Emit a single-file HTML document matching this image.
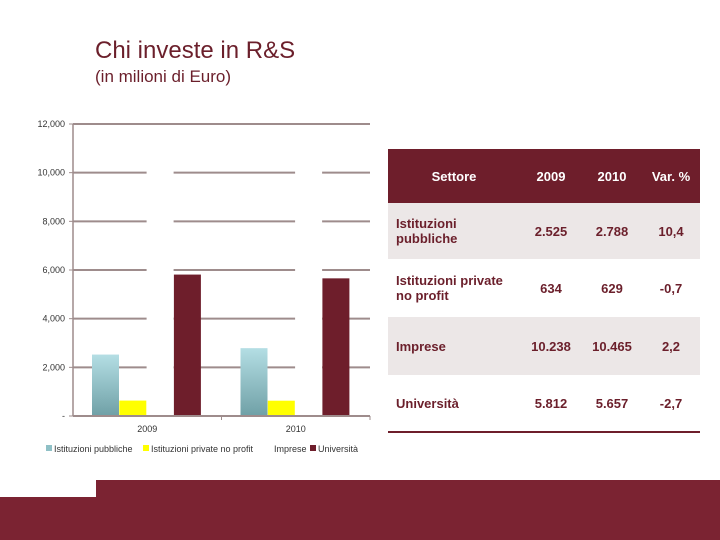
<!DOCTYPE html>
<html><head><meta charset="utf-8"><style>
body{margin:0;width:720px;height:540px;background:#fff;position:relative;overflow:hidden;font-family:"Liberation Sans",sans-serif}
.t{position:absolute;color:#6b1f2b}
table{position:absolute;left:388px;top:149px;width:312px;border-collapse:collapse;font-size:13px;font-weight:bold;color:#6b1f2b;table-layout:fixed}
td{padding:0;text-align:center}
td.l{text-align:left;padding-left:8px}
tr.h td{background:#6e1e2b;color:#fff;height:54px}
</style></head><body>
<div class="t" style="left:95px;top:37px;font-size:24px">Chi investe in R&amp;S</div>
<div class="t" style="left:95px;top:67px;font-size:17px">(in milioni di Euro)</div>
<svg width="720" height="540" style="position:absolute;left:0;top:0">
<defs><linearGradient id="gb" x1="0" y1="0" x2="0" y2="1"><stop offset="0" stop-color="#b4dee4"/><stop offset="1" stop-color="#6fa0a6"/></linearGradient></defs>
<g id="g"></g>
<rect x="96" y="480" width="624" height="60" fill="#7b2332"/>
<rect x="0" y="497" width="96" height="43" fill="#7b2332"/>
</svg>
<table>
<colgroup><col style="width:132px"><col style="width:62px"><col style="width:60px"><col style="width:58px"></colgroup>
<tr class="h"><td>Settore</td><td>2009</td><td>2010</td><td>Var. %</td></tr>
<tr style="background:#ece7e7;height:56px"><td class="l">Istituzioni<br>pubbliche</td><td>2.525</td><td>2.788</td><td>10,4</td></tr>
<tr style="height:58px"><td class="l">Istituzioni private<br>no profit</td><td>634</td><td>629</td><td>-0,7</td></tr>
<tr style="background:#ece7e7;height:58px"><td class="l">Imprese</td><td>10.238</td><td>10.465</td><td>2,2</td></tr>
<tr style="height:57px;border-bottom:2px solid #6e1e2b"><td class="l">Università</td><td>5.812</td><td>5.657</td><td>-2,7</td></tr>
</table>
<script>
const categories=["2009","2010"];
const seriesNames=["Istituzioni pubbliche","Istituzioni private no profit","Imprese","Università"];
const pubbliche=[2525,2788];
const privateNP=[634,629];
const imprese=[10238,10465];
const universita=[5812,5657];
const yTicks=[0,2000,4000,6000,8000,10000,12000];
const yTickLabels=["-","2,000","4,000","6,000","8,000","10,000","12,000"];
const NS="http://www.w3.org/2000/svg",g=document.getElementById('g');
const x0=73,x1=370,y0=416,y1=124,ymax=12000;
const ys=v=>y0-(v/ymax)*(y0-y1);
const bw=(x1-x0)/categories.length;
function mk(t,a,p){const e=document.createElementNS(NS,t);for(const k in a)e.setAttribute(k,a[k]);(p||g).appendChild(e);return e;}
yTicks.forEach((v,i)=>{
 const l=mk('line',{x1:x0,x2:x1,y1:ys(v),y2:ys(v),stroke:'#9e8c8c','stroke-width':2});
 
 
 mk('line',{x1:x0-4,x2:x0,y1:ys(v),y2:ys(v),stroke:'#9e8c8c'});
 const t=mk('text',{x:65,y:ys(v)+3,'text-anchor':'end','font-size':9,fill:'#333'});t.textContent=yTickLabels[i];
 
 
});
mk('line',{x1:x0,x2:x0,y1:y1,y2:y0,stroke:'#9e8c8c','stroke-width':1.5});
const series=[pubbliche,privateNP,imprese,universita];
const colors=['url(#gb)','#ffff00','#ffffff','#6e1e2b'];
categories.forEach((c,ci)=>{
 series.forEach((s,si)=>{
  const x=x0+ci*bw+19+si*27.3;
  const r=mk('rect',{x:x,y:ys(s[ci]),width:27,height:y0-ys(s[ci]),fill:colors[si]});
  
  
 });
 const t=mk('text',{x:x0+ci*bw+bw/2,y:432,'text-anchor':'middle','font-size':9,fill:'#333'});t.textContent=c;
 
 
 mk('line',{x1:x0+(ci+1)*bw,x2:x0+(ci+1)*bw,y1:y0,y2:y0+4,stroke:'#9e8c8c'});
});
mk('line',{x1:x0,x2:x1,y1:y0,y2:y0,stroke:'#9e8c8c','stroke-width':2});
const lx=[46,143,266,310],lc=['#8fc0c6','#ffff00','#ffffff','#6e1e2b'];
seriesNames.forEach((n,i)=>{
 const r=mk('rect',{x:lx[i],y:445,width:6,height:6,fill:lc[i]});
 
 
 const t=mk('text',{x:lx[i]+8,y:452,'font-size':9,fill:'#333'});t.textContent=n;
 
 
});
</script>
</body></html>
